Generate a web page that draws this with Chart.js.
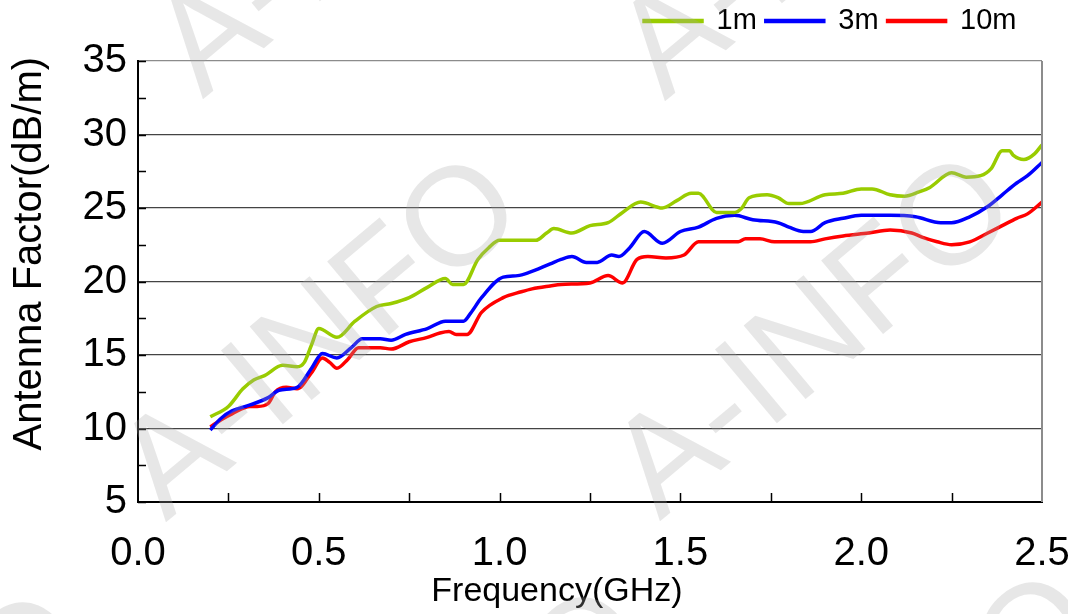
<!DOCTYPE html>
<html>
<head>
<meta charset="utf-8">
<script src="https://cdn.jsdelivr.net/npm/chart.js@4.4.1/dist/chart.umd.min.js"></script>
<style>
html,body{margin:0;padding:0;background:#fff;}
#wrap{width:1068px;height:614px;position:relative;}
</style>
</head>
<body>
<div id="wrap"><canvas id="c"></canvas></div>
<script>
// ---- data ----
const seriesNames = ['1m', '3m', '10m'];
const xTickLabels = ['0.0', '0.5', '1.0', '1.5', '2.0', '2.5'];
const yTickLabels = ['5', '10', '15', '20', '25', '30', '35'];
const xTitle = 'Frequency(GHz)';
const yTitle = 'Antenna Factor(dB/m)';

const freq1m = [0.2,0.25,0.29,0.32,0.35,0.40,0.44,0.46,0.48,0.50,0.55,0.60,0.66,0.70,0.75,0.80,0.85,0.87,0.90,0.94,0.97,1.0,1.10,1.13,1.15,1.20,1.25,1.30,1.34,1.39,1.45,1.49,1.53,1.55,1.60,1.65,1.67,1.69,1.74,1.77,1.80,1.83,1.90,1.95,2.0,2.03,2.08,2.12,2.16,2.19,2.25,2.29,2.33,2.36,2.39,2.41,2.42,2.45,2.48,2.5];
const af1m   = [10.8,11.5,12.7,13.3,13.6,14.3,14.2,14.5,15.7,16.8,16.2,17.3,18.3,18.5,18.9,19.6,20.2,19.8,19.8,21.5,22.3,22.8,22.8,23.3,23.6,23.3,23.8,24.0,24.7,25.4,25.0,25.5,26.0,26.0,24.7,24.7,25.0,25.7,25.9,25.7,25.3,25.3,25.9,26.0,26.3,26.3,25.9,25.8,26.1,26.4,27.4,27.1,27.2,27.7,28.9,28.9,28.6,28.3,28.7,29.3];

const freq3m = [0.2,0.23,0.26,0.31,0.36,0.39,0.44,0.48,0.51,0.55,0.59,0.62,0.67,0.70,0.74,0.80,0.85,0.90,0.92,0.95,1.01,1.05,1.08,1.14,1.17,1.20,1.24,1.27,1.31,1.33,1.36,1.40,1.45,1.50,1.55,1.60,1.65,1.70,1.77,1.80,1.84,1.86,1.90,1.95,2.0,2.08,2.15,2.22,2.25,2.30,2.35,2.39,2.43,2.46,2.5];
const af3m   = [9.9,10.7,11.2,11.6,12.1,12.6,12.8,14.1,15.1,14.8,15.5,16.1,16.1,16.0,16.4,16.8,17.3,17.3,17.85,18.9,20.3,20.4,20.6,21.2,21.5,21.7,21.3,21.3,21.8,21.7,22.3,23.4,22.6,23.4,23.7,24.3,24.5,24.2,24.0,23.7,23.4,23.4,24.0,24.3,24.5,24.5,24.4,24.0,24.0,24.4,25.1,25.9,26.7,27.2,28.1];

const freq10m = [0.2,0.23,0.26,0.31,0.33,0.36,0.38,0.41,0.44,0.48,0.51,0.53,0.55,0.58,0.61,0.67,0.70,0.75,0.80,0.835,0.86,0.88,0.91,0.95,1.01,1.06,1.09,1.14,1.17,1.25,1.30,1.34,1.38,1.41,1.46,1.51,1.55,1.61,1.66,1.68,1.72,1.76,1.86,1.90,1.95,2.02,2.08,2.14,2.17,2.21,2.25,2.30,2.35,2.39,2.43,2.46,2.5];
const af10m   = [10.1,10.6,11.0,11.5,11.5,11.7,12.5,12.8,12.7,13.8,14.8,14.5,14.1,14.7,15.5,15.5,15.4,15.9,16.2,16.5,16.6,16.4,16.4,17.9,18.9,19.3,19.5,19.7,19.8,19.9,20.4,19.9,21.5,21.7,21.6,21.8,22.7,22.7,22.7,22.9,22.9,22.7,22.7,22.9,23.1,23.3,23.5,23.3,23.0,22.7,22.5,22.7,23.3,23.8,24.3,24.6,25.4];

const watermarkText = 'A-INFO';

// ---- build ----
const FONT = "'Liberation Sans', Arial, sans-serif";
function pts(xs, ys){ return xs.map((x,i)=>({x:x, y:ys[i]})); }
const colors = ['#99cc00', '#0000ff', '#ff0000'];
const seriesData = [pts(freq1m, af1m), pts(freq3m, af3m), pts(freq10m, af10m)];

const datasets = seriesNames.map((n,i)=>({
  label: n,
  data: seriesData[i],
  borderColor: colors[i],
  backgroundColor: colors[i],
  borderWidth: 3.5,
  pointRadius: 0,
  cubicInterpolationMode: 'monotone',
  fill: false
}));

const minorTicks = {
  id: 'minorTicks',
  afterLayout(chart){
    const lg = chart.legend;
    if (lg){
      const h = lg.bottom - lg.top;
      lg.right -= 16.5; lg.left -= 16.5;
      lg.top = -2.5; lg.bottom = lg.top + h;
    }
  },
  afterDatasetsDraw(chart){
    const {ctx, chartArea:a, scales:{x, y}} = chart;
    ctx.save();
    ctx.strokeStyle = '#000';
    ctx.lineWidth = 1.5;
    ctx.beginPath();
    for (let v = 5; v <= 35.001; v += 2.5){
      const py = Math.round(y.getPixelForValue(v)) + 0.5;
      ctx.moveTo(a.left, py); ctx.lineTo(a.left + 8, py);
    }
    for (let v = 0.25; v < 2.5; v += 0.25){
      const px = Math.round(x.getPixelForValue(v)) + 0.5;
      ctx.moveTo(px, a.bottom); ctx.lineTo(px, a.bottom - 9);
    }
    ctx.stroke();
    ctx.strokeStyle = '#8c8c8c';
    ctx.lineWidth = 2;
    ctx.beginPath();
    ctx.moveTo(a.right, a.top); ctx.lineTo(a.right, a.bottom);
    ctx.stroke();
    ctx.restore();
  }
};

const watermark = {
  id: 'watermark',
  afterDraw(chart){
    const ctx = chart.ctx;
    ctx.save();
    ctx.font = '140px ' + FONT;
    ctx.fillStyle = 'rgba(170,170,170,0.28)';
    ctx.textBaseline = 'middle';
    const starts = [[141,493],[635,492],[178,70],[640,72],[-292,930],[268,925],[718,910]];
    starts.forEach(([sx,sy])=>{
      ctx.save();
      ctx.translate(sx, sy);
      ctx.rotate(-40*Math.PI/180);
      ctx.fillText(watermarkText, 0, 0);
      ctx.restore();
    });
    ctx.restore();
  }
};

new Chart(document.getElementById('c'), {
  type: 'line',
  data: { datasets },
  options: {
    responsive: true,
    maintainAspectRatio: false,
    animation: false,
    layout: { padding: { left: 0, right: 26, top: 0, bottom: 0 } },
    plugins: {
      legend: {
        display: true,
        position: 'top',
        align: 'end',
        labels: {
          boxWidth: 58,
          boxHeight: 1,
          padding: 9,
          color: '#000',
          font: { family: FONT, size: 29 }
        }
      },
      tooltip: { enabled: false }
    },
    scales: {
      x: {
        type: 'linear',
        min: 0, max: 2.5,
        afterFit(s){ s.height = 112; s.paddingLeft = 0; s.paddingRight = 0; },
        afterBuildTicks(s){ s.ticks = xTickLabels.map(t=>({value: parseFloat(t)})); },
        ticks: {
          color: '#000',
          font: { family: FONT, size: 40 },
          padding: 28,
          maxRotation: 0,
          autoSkip: false,
          callback: (v)=>Number(v).toFixed(1)
        },
        grid: { display: false, drawTicks: false },
        border: { display: true, color: '#000', width: 2 },
        title: {
          display: true,
          text: xTitle + '       ',
          color: '#000',
          font: { family: FONT, size: 34 },
          padding: { top: 0, bottom: 2 }
        }
      },
      y: {
        type: 'linear',
        min: 5, max: 35,
        afterFit(s){ s.width = 138; s.paddingTop = 61; s.paddingBottom = 0; },
        afterBuildTicks(s){ s.ticks = yTickLabels.map(t=>({value: parseFloat(t)})); },
        ticks: {
          color: '#000',
          font: { family: FONT, size: 40 },
          padding: 11,
          autoSkip: false,
          callback: (v)=>String(v)
        },
        grid: {
          drawTicks: false,
          lineWidth: 1.2,
          color: (c)=> c.tick && c.tick.value === 35 ? '#8c8c8c' : (c.tick && c.tick.value === 5 ? 'rgba(0,0,0,0)' : '#444')
        },
        border: { display: true, color: '#000', width: 2 },
        title: {
          display: true,
          text: '     ' + yTitle,
          color: '#000',
          font: { family: FONT, size: 40 },
          padding: { top: 6, bottom: 0 }
        }
      }
    }
  },
  plugins: [minorTicks, watermark]
});
</script>
</body>
</html>
